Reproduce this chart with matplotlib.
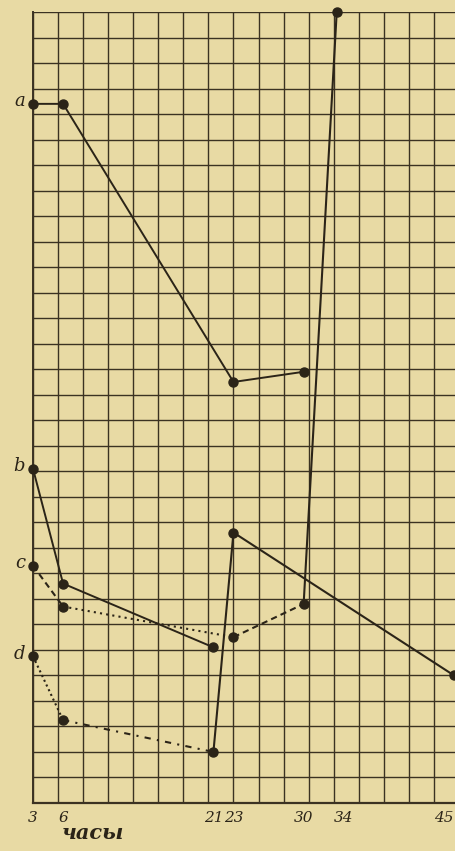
import matplotlib.pyplot as plt
import numpy as np

PAPER = "#E8DAA4"
INK = "#2B2418"
GRID = "#3B3222"

# series values (x in hours, y in grid units)
a_x = [3, 6, 23, 30]
a_y = [27.4, 27.4, 16.5, 16.9]

b_x = [3, 6, 21]
b_y = [13.1, 8.6, 6.1]

c_x = [3, 6, 23, 30, 33.3]
c_y = [9.3, 7.7, 6.5, 7.8, 31.0]
c_styles = [(0, (3, 2)), (0, (1, 2)), (0, (3, 2)), "-"]

d_x = [3, 6, 21, 23, 45]
d_y = [5.75, 3.25, 2.0, 10.6, 5.0]
d_styles = [(0, (1, 1.5)), (0, (3, 3, 1, 3)), "-", "-"]

tick_vals = [3, 6, 21, 23, 30, 34, 45]
tick_labels = ["3", "6", "21", "23", "30", "34", "45"]
series_names = ["a", "b", "c", "d"]

fig = plt.figure(figsize=(4.56, 8.51), dpi=100, facecolor=PAPER)
ax = fig.add_axes([33 / 456, 48 / 851, 1 - 33 / 456, 791 / 851])
ax.set_facecolor(PAPER)
ax.set_xlim(3, 45.2)
ax.set_ylim(0, 31)

for gx in np.arange(3, 45.2, 2.5):
    ax.axvline(gx, color=GRID, lw=1.0, zorder=1)
for gy in range(0, 32):
    ax.axhline(gy, color=GRID, lw=1.0, zorder=1)

for s in ax.spines.values():
    s.set_color(GRID)
ax.spines["bottom"].set_linewidth(1.6)
ax.spines["left"].set_linewidth(1.4)
ax.spines["top"].set_visible(False)
ax.spines["right"].set_linewidth(1.0)

mk = dict(marker="o", markersize=6.5, color=INK, clip_on=False, zorder=4)

ax.plot(a_x, a_y, linestyle="-", lw=1.4, **mk)
ax.plot(b_x, b_y, linestyle="-", lw=1.4, **mk)

for i, ls in enumerate(c_styles):
    ax.plot(c_x[i:i + 2], c_y[i:i + 2], linestyle=ls, lw=1.5, color=INK, zorder=3, clip_on=False)
ax.plot(c_x, c_y, linestyle="none", **mk)

for i, ls in enumerate(d_styles):
    ax.plot(d_x[i:i + 2], d_y[i:i + 2], linestyle=ls, lw=1.5, color=INK, zorder=3, clip_on=False)
ax.plot(d_x, d_y, linestyle="none", **mk)

ax.set_yticks([])
ax.set_xticks(tick_vals, tick_labels)
ax.tick_params(axis="x", length=0, pad=6, labelsize=11, colors=INK)
for lab in ax.get_xticklabels():
    lab.set_family("DejaVu Serif")
    lab.set_style("italic")
ax.get_xticklabels()[-1].set_ha("right")

for name, yv in zip(series_names, [a_y[0], b_y[0], c_y[0], d_y[0]]):
    ax.text(2.2, yv + 0.1, name, ha="right", va="center", fontsize=13,
            family="DejaVu Serif", style="italic", color=INK, clip_on=False)

fig.text(62 / 456, 1 - 833 / 851, "часы", ha="left", va="center", fontsize=15,
         family="DejaVu Serif", style="italic", fontweight="bold", color=INK)

fig.savefig("out.png", dpi=100, facecolor=PAPER)
